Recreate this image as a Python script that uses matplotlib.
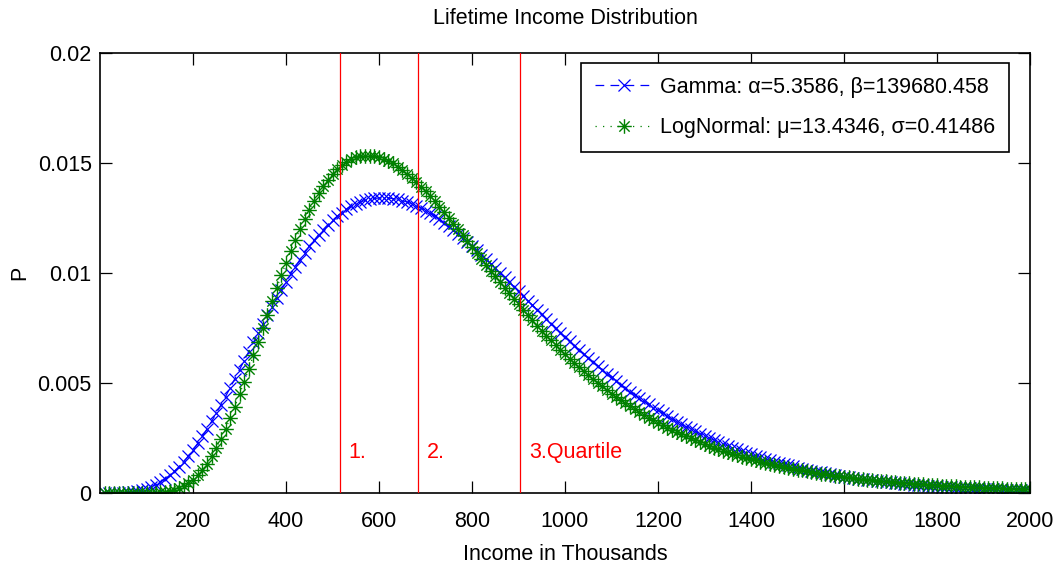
import numpy as np
import matplotlib
matplotlib.use('Agg')
import matplotlib.pyplot as plt
from matplotlib.path import Path
from matplotlib.markers import MarkerStyle

plt.rcParams['font.family'] = ['Liberation Sans', 'DejaVu Sans']
plt.rcParams['font.size'] = 15.5

# income grid (thousands), one point every 10k
income = np.arange(10, 2001, 10)

# P per 10k bin, in units of 1e-4
gamma_p_e4 = [
    0.0002, 0.0031, 0.017, 0.055, 0.136, 0.281, 0.511, 0.852, 1.325, 1.953,
    2.754, 3.745, 4.941, 6.357, 7.993, 9.856, 11.95, 14.27, 16.81, 19.58,
    22.54, 25.70, 29.04, 32.55, 36.20, 39.98, 43.86, 47.85, 51.91, 56.02,
    60.16, 64.31, 68.47, 72.61, 76.67, 80.71, 84.66, 88.54, 92.31, 95.95,
    99.47, 102.86, 106.08, 109.18, 112.1, 114.8, 117.35, 119.77, 121.97, 123.98,
    125.8, 127.5, 128.96, 130.26, 131.3, 132.3, 133.0, 133.5, 133.9, 134.1,
    134.2, 134.1, 133.8, 133.5, 132.9, 132.3, 131.5, 130.5, 129.5, 128.4,
    127.2, 125.8, 124.4, 122.9, 121.2, 119.6, 117.8, 116.0, 114.2, 112.3,
    110.3, 108.4, 106.4, 104.3, 102.3, 100.1, 98.06, 95.94, 93.81, 91.70,
    89.59, 87.46, 85.34, 83.24, 81.15, 79.05, 77.00, 74.98, 72.94, 70.95,
    68.98, 67.03, 65.11, 63.22, 61.36, 59.52, 57.73, 55.96, 54.23, 52.54,
    50.88, 49.25, 47.66, 46.10, 44.58, 43.09, 41.65, 40.23, 38.86, 37.52,
    36.21, 34.94, 33.71, 32.50, 31.34, 30.20, 29.10, 28.03, 27.00, 25.99,
    25.02, 24.07, 23.16, 22.28, 21.42, 20.59, 19.79, 19.02, 18.27, 17.55,
    16.85, 16.18, 15.53, 14.90, 14.29, 13.71, 13.15, 12.61, 12.09, 11.58,
    11.10, 10.64, 10.19, 9.76, 9.34, 8.95, 8.56, 8.19, 7.84, 7.50,
    7.18, 6.86, 6.56, 6.27, 6.00, 5.73, 5.48, 5.23, 5.00, 4.78,
    4.56, 4.35, 4.16, 3.97, 3.79, 3.61, 3.45, 3.29, 3.14, 2.99,
    2.86, 2.72, 2.60, 2.47, 2.36, 2.25, 2.14, 2.04, 1.94, 1.85,
    1.76, 1.68, 1.60, 1.52, 1.45, 1.38, 1.31, 1.25, 1.19, 1.13,
]

lognorm_p_e4 = [
    0.0, 0.0, 0.0, 0.0, 0.0, 0.0001, 0.0004, 0.0019, 0.007, 0.021,
    0.054, 0.122, 0.248, 0.464, 0.807, 1.320, 2.048, 3.043, 4.345, 5.999,
    8.034, 10.48, 13.36, 16.68, 20.42, 24.57, 29.12, 34.04, 39.28, 44.81,
    50.57, 56.5, 62.56, 68.73, 74.89, 81.05, 87.15, 93.12, 98.95, 104.57,
    109.97, 115.1, 119.97, 124.5, 128.8, 132.7, 136.3, 139.5, 142.4, 144.9,
    147.1, 148.9, 150.4, 151.6, 152.5, 153.1, 153.4, 153.4, 153.1, 152.6,
    151.9, 150.9, 149.8, 148.4, 146.9, 145.2, 143.4, 141.4, 139.3, 137.1,
    134.9, 132.5, 130.1, 127.6, 125.0, 122.4, 119.8, 117.2, 114.5, 111.8,
    109.1, 106.5, 103.8, 101.1, 98.48, 95.88, 93.28, 90.72, 88.19, 85.69,
    83.21, 80.83, 78.44, 76.11, 73.82, 71.59, 69.39, 67.22, 65.13, 63.08,
    61.07, 59.12, 57.21, 55.36, 53.55, 51.79, 50.07, 48.41, 46.79, 45.22,
    43.70, 42.22, 40.78, 39.38, 38.03, 36.72, 35.45, 34.22, 33.03, 31.87,
    30.76, 29.68, 28.63, 27.62, 26.64, 25.70, 24.78, 23.90, 23.05, 22.23,
    21.43, 20.66, 19.92, 19.20, 18.51, 17.84, 17.20, 16.58, 15.97, 15.40,
    14.84, 14.30, 13.78, 13.28, 12.80, 12.33, 11.88, 11.45, 11.03, 10.63,
    10.24, 9.87, 9.51, 9.16, 8.83, 8.51, 8.19, 7.90, 7.61, 7.33,
    7.06, 6.81, 6.56, 6.32, 6.09, 5.87, 5.65, 5.45, 5.25, 5.06,
    4.87, 4.70, 4.53, 4.36, 4.20, 4.05, 3.90, 3.76, 3.63, 3.50,
    3.37, 3.25, 3.13, 3.02, 2.91, 2.80, 2.70, 2.61, 2.51, 2.42,
    2.34, 2.25, 2.17, 2.09, 2.02, 1.95, 1.88, 1.81, 1.75, 1.68,
]

gamma_label = 'Gamma: α=5.3586, β=139680.458'
lognorm_label = 'LogNormal: μ=13.4346, σ=0.41486'

quartiles = [516, 683, 904]
quartile_labels = ['1.', '2.', '3.Quartile']

x_ticks = [200, 400, 600, 800, 1000, 1200, 1400, 1600, 1800, 2000]
y_ticks = [0, 0.005, 0.01, 0.015, 0.02]
y_tick_labels = ['0', '0.005', '0.01', '0.015', '0.02']

gamma_p = np.array(gamma_p_e4) * 1e-4
lognorm_p = np.array(lognorm_p_e4) * 1e-4

# matlab style asterisk (+ and x on top of each other)
d = 0.7071
ast_path = Path([(-1, 0), (1, 0), (0, -1), (0, 1), (-d, -d), (d, d), (-d, d), (d, -d)],
                [Path.MOVETO, Path.LINETO] * 4)
asterisk = MarkerStyle(ast_path, fillstyle='none')

W, H = 1057, 578
fig = plt.figure(figsize=(W / 100, H / 100), dpi=100)
ax = fig.add_axes([100 / W, 1 - 493 / H, 930 / W, 440 / H])

ax.plot(income, gamma_p, color='#0000ff', linestyle=(0, (7, 5)), linewidth=0.9,
        marker='x', markersize=8, markeredgewidth=0.9, label=gamma_label)
ax.plot(income, lognorm_p, color='#008000', linestyle=(0, (1, 5)), linewidth=0.9,
        marker=asterisk, markersize=10.5, markeredgewidth=1.0, label=lognorm_label)

for q, lab in zip(quartiles, quartile_labels):
    ax.axvline(q, color='#ff0000', linewidth=0.9, zorder=3)
    ax.text(q + 19, 0.00185, lab, color='#ff0000', ha='left', va='center')

ax.set_xlim(0, 2000)
ax.set_ylim(0, 0.02)
ax.set_xticks(x_ticks)
ax.set_yticks(y_ticks)
ax.set_yticklabels(y_tick_labels)
ax.tick_params(direction='in', length=8.5, width=0.9, top=True, right=True)
ax.tick_params(axis='x', pad=13)
ax.tick_params(axis='y', pad=6)
for sp in ax.spines.values():
    sp.set_linewidth(1.2)

ax.set_title('Lifetime Income Distribution', fontsize=15.5, y=(493 - 18) / 440,
             pad=0, va='center')
ax.set_xlabel('Income in Thousands', va='center')
ax.xaxis.set_label_coords(0.5, (493 - 554) / 440)
ax.set_ylabel('P', va='center')
ax.yaxis.set_label_coords((20 - 100) / 930, 0.5)

leg = ax.legend(loc='upper right', bbox_to_anchor=(1009 / W, 1 - 63 / H),
                bbox_transform=fig.transFigure, borderaxespad=0, numpoints=1,
                handlelength=2.7, handletextpad=0.3, borderpad=0.65,
                labelspacing=0.9, fancybox=False, framealpha=1)
leg.get_frame().set_edgecolor('black')
leg.get_frame().set_linewidth(1.2)

fig.savefig('out.png', dpi=100)
